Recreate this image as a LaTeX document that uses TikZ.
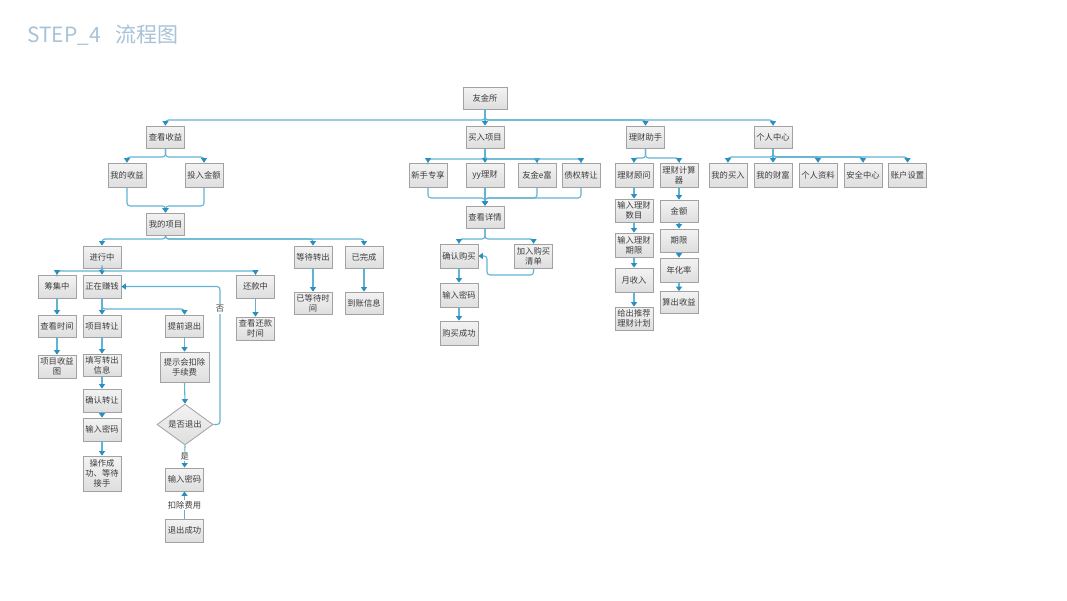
\documentclass[tikz,border=0pt]{standalone}
\usepackage{fontspec}
\setmainfont{Noto Sans CJK SC}
\usetikzlibrary{arrows.meta,shapes.geometric}
\definecolor{linec}{HTML}{62B3D3}
\definecolor{arrc}{HTML}{2A8FC0}
\definecolor{boxd}{HTML}{A2A2A2}
\definecolor{boxt}{HTML}{F3F3F3}
\definecolor{boxb}{HTML}{DEDEDE}
\definecolor{txt}{HTML}{3C3C3C}
\definecolor{ttl}{HTML}{A8C3D7}
\begin{document}
\begin{tikzpicture}[x=1pt,y=-1pt,
 box/.style={draw=boxd, line width=0.8pt, top color=boxt, bottom color=boxb, minimum width=38pt, minimum height=23pt, inner sep=1pt, align=center, font=\fontsize{8.3}{10}\selectfont, text=txt},
 dia/.style={shape=diamond, draw=boxd, line width=0.8pt, top color=boxt, bottom color=boxb, minimum width=56pt, minimum height=33pt, inner sep=0pt, font=\fontsize{8.3}{10}\selectfont, text=txt},
 edge/.style={draw=linec, line width=1.1pt, rounded corners=3pt, -{Triangle[width=6pt,length=4.5pt,color=arrc]}},
 lbl/.style={fill=white, inner sep=1pt, font=\fontsize{8.3}{10}\selectfont, text=txt}]
\fill[white] (0,0) rectangle (1067,600);
\useasboundingbox (0,0) rectangle (1067,600);

\node[anchor=west, text=ttl, font=\fontsize{21}{24}\selectfont, inner sep=0pt] (title) at (27,35) {STEP\_4\hspace{15pt}流程图};

% root and level 1
\node[box, minimum width=44pt, minimum height=22pt] (root) at (485,98) {友金所};
\node[box, minimum height=22pt] (a1) at (165.5,137) {查看收益};
\node[box, minimum height=22pt] (a2) at (485,137) {买入项目};
\node[box, minimum height=22pt] (a3) at (645.5,137) {理财助手};
\node[box, minimum height=22pt] (a4) at (773,137) {个人中心};
\foreach \c in {a1,a2,a3,a4} \draw[edge] (root.south) |- (\c.north |- 0,120) -- (\c.north);

% 查看收益
\node[box, minimum height=24pt] (b1) at (127,175) {我的收益};
\node[box, minimum height=24pt] (b2) at (204,175) {投入金额};
\node[box, minimum height=22pt] (b3) at (165.5,224) {我的项目};
\foreach \c in {b1,b2} {
  \draw[edge] (a1.south) |- (\c.north |- 0,157) -- (\c.north);
  \draw[edge] (\c.south) |- (b3.north |- 0,206) -- (b3.north);
}

% 买入项目
\node[box, minimum height=24pt] (c1) at (428,175) {新手专享};
\node[box, minimum height=24pt] (c2) at (485,175) {yy理财};
\node[box, minimum height=24pt] (c3) at (537,175) {友金e富};
\node[box, minimum height=24pt] (c4) at (581,175) {债权转让};
\node[box, minimum height=22pt] (c5) at (485,217) {查看详情};
\foreach \c in {c1,c2,c3,c4} {
  \draw[edge] (a2.south) |- (\c.north |- 0,159) -- (\c.north);
  \draw[edge] (\c.south) |- (c5.north |- 0,198) -- (c5.north);
}
\node[box, minimum height=24pt] (c6) at (459,256) {确认购买};
\node[box, minimum height=24pt] (c7) at (533.5,256) {加入购买\\清单};
\node[box, minimum height=24pt] (c8) at (459,295) {输入密码};
\node[box, minimum height=24pt] (c9) at (459,333) {购买成功};
\foreach \c in {c6,c7} \draw[edge] (c5.south) |- (\c.north |- 0,239) -- (\c.north);
\draw[edge] (c7.south) |- (487,275) |- (c6.east);
\draw[edge] (c6.south) -- (c8.north);
\draw[edge] (c8.south) -- (c9.north);

% 理财助手
\node[box, minimum height=24pt] (d1) at (634,175) {理财顾问};
\node[box, minimum height=24pt] (d2) at (679,175) {理财计算\\器};
\foreach \c in {d1,d2} \draw[edge] (a3.south) |- (\c.north |- 0,158) -- (\c.north);
\node[box] (d3) at (634,210.5) {输入理财\\数目};
\node[box, minimum height=24pt] (d4) at (634,245) {输入理财\\期限};
\node[box, minimum height=24pt] (d5) at (634,280) {月收入};
\node[box] (d6) at (634,318.5) {给出推荐\\理财计划};
\draw[edge] (d1.south) -- (d3.north);
\draw[edge] (d3.south) -- (d4.north);
\draw[edge] (d4.south) -- (d5.north);
\draw[edge] (d5.south) -- (d6.north);
\node[box, minimum height=22pt] (d7) at (679,211) {金额};
\node[box, minimum height=23pt] (d8) at (679,240.5) {期限};
\node[box, minimum height=24pt] (d9) at (679,270) {年化率};
\node[box, minimum height=22pt] (d10) at (679,302.5) {算出收益};
\draw[edge] (d2.south) -- (d7.north);
\draw[edge] (d7.south) -- (d8.north);
\draw[edge] (d8.south) -- (d9.north);
\draw[edge] (d9.south) -- (d10.north);

% 个人中心
\node[box, minimum height=24pt] (e1) at (728,175) {我的买入};
\node[box, minimum height=24pt] (e2) at (773,175) {我的财富};
\node[box, minimum height=24pt] (e3) at (818,175) {个人资料};
\node[box, minimum height=24pt] (e4) at (863,175) {安全中心};
\node[box, minimum height=24pt] (e5) at (907.5,175) {账户设置};
\foreach \c in {e1,e2,e3,e4,e5} \draw[edge] (a4.south) |- (\c.north |- 0,157) -- (\c.north);

% 我的项目
\node[box, minimum height=22pt] (f1) at (102,257) {进行中};
\node[box, minimum height=22pt] (f2) at (313,257) {等待转出};
\node[box, minimum height=22pt] (f3) at (364,257) {已完成};
\foreach \c in {f1,f2,f3} \draw[edge] (b3.south) |- (\c.north |- 0,239) -- (\c.north);
\node[box, minimum height=22pt] (f4) at (313,303) {已等待时\\间};
\node[box, minimum height=22pt] (f5) at (364,303) {到账信息};
\draw[edge] (f2.south) -- (f4.north);
\draw[edge] (f3.south) -- (f5.north);

% 进行中
\node[box] (g1) at (57,286.5) {筹集中};
\node[box] (g2) at (102,286.5) {正在赚钱};
\node[box] (g3) at (255.5,286.5) {还款中};
\foreach \c in {g1,g2,g3} \draw[edge] (f1.south) |- (\c.north |- 0,271) -- (\c.north);
\node[box, minimum height=22pt] (g4) at (57,326) {查看时间};
\node[box] (g5) at (57,366.5) {项目收益\\图};
\node[box] (g6) at (255.5,328.5) {查看还款\\时间};
\draw[edge] (g1.south) -- (g4.north);
\draw[edge] (g4.south) -- (g5.north);
\draw[edge] (g3.south) -- (g6.north);

% 正在赚钱
\node[box, minimum height=22pt] (h1) at (102,326) {项目转让};
\node[box, minimum height=22pt] (h2) at (184.5,326) {提前退出};
\foreach \c in {h1,h2} \draw[edge] (g2.south) |- (\c.north |- 0,309) -- (\c.north);
\node[box, minimum height=22pt] (h3) at (102,365) {填写转出\\信息};
\node[box] (h4) at (102,400.5) {确认转让};
\node[box] (h5) at (102,429.5) {输入密码};
\node[box, minimum height=35pt] (h6) at (102,473.5) {操作成\\功、等待\\接手};
\draw[edge] (h1.south) -- (h3.north);
\draw[edge] (h3.south) -- (h4.north);
\draw[edge] (h4.south) -- (h5.north);
\draw[edge] (h5.south) -- (h6.north);
\node[box, minimum width=49pt, minimum height=30pt] (h7) at (184.5,367) {提示会扣除\\手续费};
\node[dia] (h8) at (185,424.5) {是否退出};
\node[box] (h9) at (184.5,479.5) {输入密码};
\node[box] (h10) at (184.5,530.5) {退出成功};
\draw[edge] (h2.south) -- (h7.north);
\draw[edge] (h7.south) -- (h8.north);
\draw[edge] (h8.south) -- node[lbl] (yes) {是} (h9.north);
\draw[edge] (h10.north) -- node[lbl] (fee) {扣除费用} (h9.south);
\draw[edge] (h8.east) -| (220,0 |- g2.east) -- (g2.east);
\node[lbl] (no) at (220,309) {否};
\end{tikzpicture}
\end{document}
